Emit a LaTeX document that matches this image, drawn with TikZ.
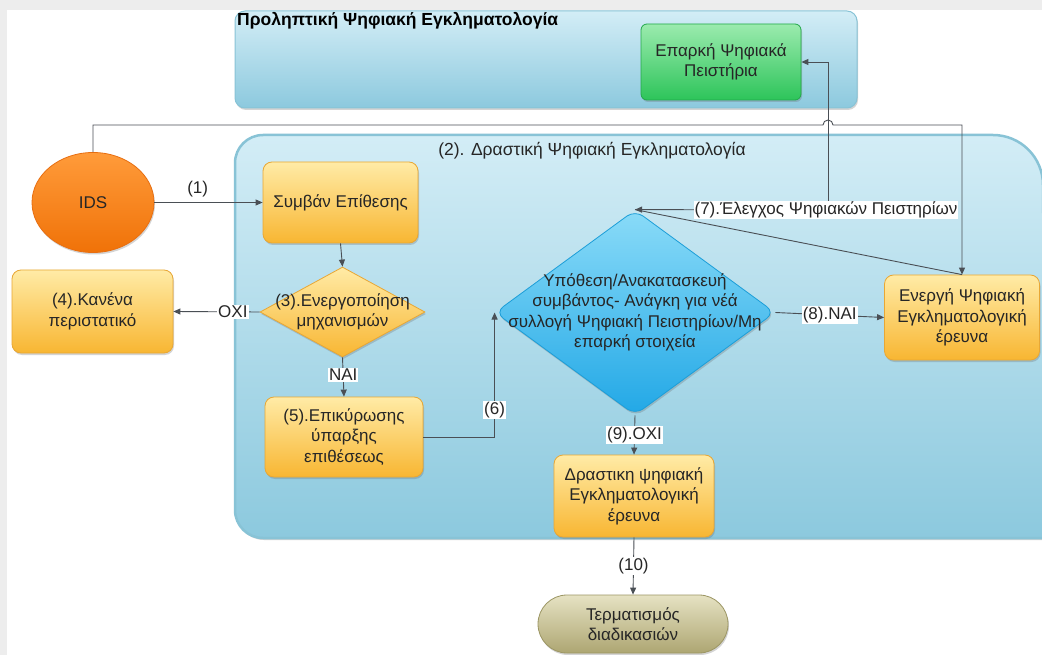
\documentclass[tikz,border=0pt]{standalone}
\usepackage{fontspec}
\setmainfont{Liberation Sans}
\usetikzlibrary{shapes.geometric,arrows.meta,shadows}

\definecolor{frame}{HTML}{EDEDED}
\definecolor{link}{HTML}{4A4F55}
\definecolor{poolTop}{HTML}{D3EDF6}
\definecolor{poolBot}{HTML}{8CC9DE}
\definecolor{poolEdge}{HTML}{88C3D6}
\definecolor{orTop}{HTML}{FFEBA6}
\definecolor{orBot}{HTML}{F8B632}
\definecolor{orEdge}{HTML}{E8A735}
\definecolor{cyTop}{HTML}{8ADBF8}
\definecolor{cyBot}{HTML}{22A8E6}
\definecolor{cyEdge}{HTML}{1C9ED8}
\definecolor{idsTop}{HTML}{FF9B3A}
\definecolor{idsBot}{HTML}{F07208}
\definecolor{idsEdge}{HTML}{E86E10}
\definecolor{grTop}{HTML}{9BEBAE}
\definecolor{grBot}{HTML}{2DC45A}
\definecolor{grEdge}{HTML}{22A84A}
\definecolor{khTop}{HTML}{E6E2C3}
\definecolor{khBot}{HTML}{ADA672}
\definecolor{khEdge}{HTML}{9C9664}

\newcommand\boxfont{\fontsize{17}{20.5}\selectfont}
\newcommand\labfont{\fontsize{17}{19}\selectfont}

\tikzset{
  x=1pt, y=1pt,
  softshadow/.style={drop shadow={shadow xshift=1pt, shadow yshift=-2pt, opacity=0.28, fill=black!60}},
  proc/.style={rectangle, rounded corners=9pt, draw=orEdge, line width=0.8pt,
    top color=orTop, bottom color=orBot, align=center, font=\boxfont,
    inner sep=2pt, text=black!85, softshadow},
  decide/.style={diamond, draw=orEdge, line width=0.8pt, top color=orTop,
    bottom color=orBot, inner sep=0pt, softshadow},
  bigdecide/.style={diamond, rounded corners=10pt, draw=cyEdge, line width=0.8pt,
    top color=cyTop, bottom color=cyBot, inner sep=0pt, softshadow},
  link/.style={draw=link, line width=0.9pt},
  arr/.style={link, -{Triangle[length=7pt,width=6pt]}},
  lab/.style={fill=white, inner sep=1pt, font=\labfont, text=black!85},
}

\begin{document}
\begin{tikzpicture}
\useasboundingbox (0,0) rectangle (1042,-655);
\clip (0,0) rectangle (1042,-655);

% page background with its light grey frame
\fill[white] (0,0) rectangle (1042,-655);
\fill[frame] (0,0) rectangle (1042,-10);
\fill[frame] (0,0) rectangle (7,-655);

% upper pool: proactive forensics
\path[draw=poolEdge, line width=1pt, top color=poolTop, bottom color=poolBot,
      rounded corners=10pt, softshadow]
  (235,-11) rectangle (857,-108);
\node[anchor=west, font=\bfseries\fontsize{17.5}{20}\selectfont, inner sep=0pt] (ptitle)
  at (237,-21) {Προληπτική Ψηφιακή Εγκληματολογία};

% lower pool: reactive forensics
\path[draw=poolEdge, line width=2.5pt, top color=poolTop, bottom color=poolBot, softshadow]
  (263,-135) -- (993,-135) arc[start angle=90,end angle=0,radius=50]
  -- (1046,-538) -- (263,-538) arc[start angle=270,end angle=180,radius=28]
  -- (235,-163) arc[start angle=180,end angle=90,radius=28] -- cycle;
\node[font=\fontsize{17.5}{20}\selectfont, inner sep=0pt, text=black!85] (rtitle) at (592,-151)
  {(2). Δραστική Ψηφιακή Εγκληματολογία};

% nodes
\node[rectangle, rounded corners=6pt, draw=grEdge, line width=0.8pt, top color=grTop,
      bottom color=grBot, minimum width=160pt, minimum height=76pt, align=center,
      font=\boxfont, text=black!85, softshadow] (green) at (721,-62) {Επαρκή Ψηφιακά\\Πειστήρια};

\node[ellipse, draw=idsEdge, line width=0.8pt, top color=idsTop, bottom color=idsBot,
      minimum width=122pt, minimum height=100pt, font=\boxfont, text=black!85, softshadow]
  (ids) at (93,-202.5) {IDS};

\node[proc, minimum width=155pt, minimum height=81pt] (att) at (340.5,-202.5) {Συμβάν Επίθεσης};
\node[decide, minimum width=165pt, minimum height=90pt,
      label={[align=center, font=\boxfont, text=black!85]center:(3).Ενεργοποίηση\\μηχανισμών}]
  (act) at (342.5,-312) {};
\node[proc, minimum width=161pt, minimum height=83pt] (none) at (92.5,-311.5) {(4).Κανένα\\περιστατικό};
\node[proc, minimum width=158pt, minimum height=80pt] (val) at (344,-437) {(5).Επικύρωσης\\ύπαρξης\\επιθέσεως};
\node[bigdecide, minimum width=280pt, minimum height=205pt,
      label={[align=center, font=\boxfont, text=black!85]center:Υπόθεση/Ανακατασκευή\\συμβάντος- Ανάγκη για νέά\\συλλογή Ψηφιακή Πειστηρίων/Μη\\επαρκή στοιχεία}]
  (bigd) at (635,-312.5) {};
\node[proc, minimum width=155pt, minimum height=85pt] (ener) at (962,-317.5) {Ενεργή Ψηφιακή\\Εγκληματολογική\\έρευνα};
\node[proc, minimum width=160pt, minimum height=82pt] (reac) at (634,-496) {Δραστικη ψηφιακή\\Εγκληματολογική\\έρευνα};
\node[rectangle, rounded corners=29pt, draw=khEdge, line width=0.8pt, top color=khTop,
      bottom color=khBot, minimum width=190pt, minimum height=58pt, align=center,
      font=\boxfont, text=black!85, softshadow] (term) at (633,-624) {Τερματισμός\\διαδικασιών};

% connectors
\draw[arr] (ids.east) -- node[pos=0.4, above=2pt, font=\labfont, text=black!85] (l1) {(1)} (att.west);
\draw[arr] (att.south) -- (act.north);
\draw[arr] (act.west) -- node[lab, pos=0.31] (l2) {ΟΧΙ} (none.east);
\draw[arr] (act.south) -- node[lab, pos=0.45] (l3) {ΝΑΙ} (val.north);
\draw[arr] (val.east) -| node[lab, pos=0.61] (l6) {(6)} (bigd.west);
\draw[arr] (bigd.east) -- node[lab] (l8) {(8).ΝΑΙ} (ener.west);
\draw[arr] (bigd.south) -- node[lab] (l9) {(9).ΟΧΙ} (reac.north);
\draw[arr] (reac.south) -- node[lab] (l10) {(10)} (term.north);

% feedback from the active investigation back to the decision
\draw[link] (ener.north) -- (bigd.north);
\coordinate (c7) at (828,-210);
\draw[arr] (c7) -- (bigd.north);
\draw[arr] (c7) |- (green.east);
\node[lab] (l7) at (826,-210) {(7).Έλεγχος Ψηφιακών Πειστηρίων};

% IDS line to the active investigation, hopping over the evidence line
\draw[arr] (ids.north) |- (823,-125) arc[start angle=180,end angle=0,radius=5]
  -| (ener.north);
\end{tikzpicture}
\end{document}
